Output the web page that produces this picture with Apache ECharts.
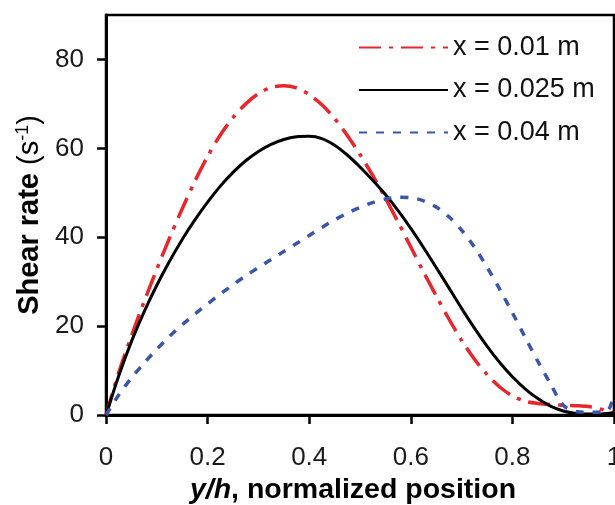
<!DOCTYPE html>
<html>
<head>
<meta charset="utf-8">
<script src="https://cdn.jsdelivr.net/npm/echarts@6/dist/echarts.min.js"></script>
<style>
html,body{margin:0;padding:0;background:#fff;}
#c{width:615px;height:505px;}
</style>
</head>
<body>
<div id="c"></div>
<script>
// Normalized position y/h
var positions = [0, 0.025, 0.05, 0.075, 0.1, 0.125, 0.15, 0.175, 0.2, 0.225, 0.25, 0.275, 0.3, 0.325, 0.35, 0.375, 0.4, 0.425, 0.45, 0.475, 0.5, 0.525, 0.55, 0.575, 0.6, 0.625, 0.65, 0.675, 0.7, 0.725, 0.75, 0.775, 0.8, 0.825, 0.85, 0.875, 0.9, 0.925, 0.95, 0.975, 0.99, 1];
// Shear rate (1/s) at x = 0.01 m
var shear001 = [0, 9.5, 17.8, 25.5, 32.8, 39.8, 46.4, 52.6, 58.2, 63.0, 66.9, 70.0, 72.3, 73.7, 74.1, 73.6, 72.1, 69.8, 66.7, 62.9, 58.6, 53.9, 48.8, 43.4, 37.8, 32.2, 26.8, 21.6, 16.8, 12.6, 9.1, 6.3, 4.3, 3.1, 2.6, 2.35, 2.2, 2.1, 1.9, 1.3, 0.8, 0.5];
// Shear rate at x = 0.025 m
var shear0025 = [0, 8.8, 16.5, 23.2, 29.2, 34.6, 39.5, 43.9, 47.9, 51.5, 54.6, 57.2, 59.3, 60.9, 62.0, 62.6, 62.7, 62.2, 60.7, 58.5, 55.8, 52.8, 49.6, 46.0, 42.0, 37.7, 33.2, 28.6, 24.0, 19.6, 15.5, 11.8, 8.6, 5.9, 3.7, 2.0, 0.9, 0.35, 0.2, 0.25, 0.4, 0.5];
// Shear rate at x = 0.04 m
var shear004 = [0, 4.5, 8.3, 11.7, 14.8, 17.7, 20.3, 22.7, 25.0, 27.2, 29.3, 31.3, 33.2, 35.0, 36.8, 38.6, 40.4, 42.2, 43.9, 45.4, 46.7, 47.8, 48.6, 49.0, 48.9, 48.2, 46.8, 44.6, 41.6, 37.8, 33.3, 28.3, 23.0, 17.5, 12.1, 7.0, 2.2, 0.8, 0.6, 0.7, 1.3, 4.8];
var seriesNames = ['x = 0.01 m', 'x = 0.025 m', 'x = 0.04 m'];
var yTicks = [0, 20, 40, 60, 80];
var xTicks = [0, 0.2, 0.4, 0.6, 0.8, 1];

function pairs(ys){ return positions.map(function(x,i){ return [x, ys[i]]; }); }

var FF = '"Liberation Sans", Arial, Helvetica, sans-serif';
var chart = echarts.init(document.getElementById('c'), null, {renderer:'canvas'});
chart.setOption({
  animation: false,
  backgroundColor: '#fff',
  grid: { left: 106, right: 1, top: 15, bottom: 90, containLabel: false, outerBoundsMode: 'none',
    show: true, borderColor: '#000', borderWidth: 2.5, backgroundColor: 'transparent' },
  legend: {
    orient: 'vertical', left: 358, top: 34, padding: 0,
    itemWidth: 89, itemHeight: 24, itemGap: 15.5,
    itemStyle: { opacity: 0 },
    textStyle: { fontSize: 27, color: '#111', fontFamily: FF },
    data: seriesNames
  },
  xAxis: {
    type: 'value', min: 0, max: 1, interval: 0.2,
    axisLine: { show: true, onZero: false, lineStyle: { color: '#000', width: 3 } },
    axisTick: { show: true, inside: false, length: 9, lineStyle: { color: '#000', width: 2.5 }, customValues: xTicks },
    axisLabel: { fontSize: 26, color: '#1a1a1a', fontFamily: FF, margin: 30, customValues: xTicks,
      formatter: function(v){ return String(Math.round(v*10)/10); } },
    splitLine: { show: false },
    name: '{i|y}{i|/}{i|h}{b|, normalized position}',
    nameLocation: 'middle', nameGap: 53,
    nameTextStyle: { fontSize: 28, fontWeight: 'bold', color: '#000', fontFamily: FF, padding: [0, 14, 0, 0],
      rich: {
        i: { fontSize: 28.5, fontWeight: 'bold', fontStyle: 'italic', color: '#000', fontFamily: FF },
        b: { fontSize: 28.5, fontWeight: 'bold', color: '#000', fontFamily: FF }
      } }
  },
  yAxis: {
    type: 'value', min: 0, max: 90, interval: 20,
    axisLine: { show: true, onZero: false, lineStyle: { color: '#000', width: 3 } },
    axisTick: { show: true, inside: false, length: 9, lineStyle: { color: '#000', width: 2.5 }, customValues: yTicks },
    axisLabel: { fontSize: 26, color: '#1a1a1a', fontFamily: FF, margin: 22, customValues: yTicks,
      formatter: function(v){ return v > 85 ? '' : String(v); } },
    splitLine: { show: false },
    name: '{b|Shear rate} {n|(s}{s|-1}{n|)}',
    nameLocation: 'middle', nameRotate: 90, nameGap: 60,
    nameTextStyle: { fontSize: 29, color: '#000', fontFamily: FF,
      rich: {
        b: { fontSize: 29, fontWeight: 'bold', color: '#000', fontFamily: FF, lineHeight: 32 },
        n: { fontSize: 29, color: '#000', fontFamily: FF, lineHeight: 32 },
        s: { fontSize: 18, color: '#000', fontFamily: FF, verticalAlign: 'top', lineHeight: 18 }
      } }
  },
  series: [
    { name: seriesNames[0], type: 'line', data: pairs(shear001), symbol: 'none', smooth: 0.3,
      itemStyle: { color: '#e8262b' },
      lineStyle: { color: '#e8262b', width: 3.5, type: [22, 8, 4, 8] } },
    { name: seriesNames[1], type: 'line', data: pairs(shear0025), symbol: 'none', smooth: 0.3,
      itemStyle: { color: '#000' },
      lineStyle: { color: '#000', width: 3 } },
    { name: seriesNames[2], type: 'line', data: pairs(shear004), symbol: 'none', smooth: 0.3,
      itemStyle: { color: '#3b55a8' },
      lineStyle: { color: '#3b55a8', width: 3.5, type: [8, 9] } }
  ]
});
</script>
</body>
</html>
